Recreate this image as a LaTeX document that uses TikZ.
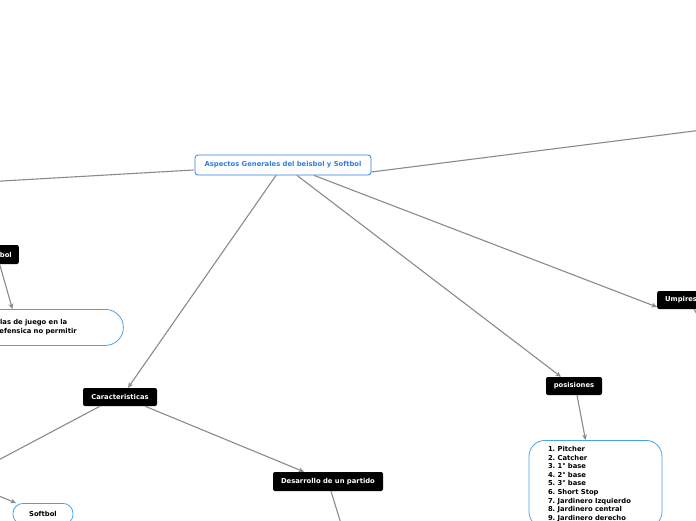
\documentclass[tikz,border=0pt]{standalone}
\usepackage{fontspec}
\setmainfont{DejaVu Sans}
\usetikzlibrary{arrows.meta,calc}
\definecolor{edgegray}{HTML}{8A8A8A}
\definecolor{mainblue}{HTML}{2F7FE0}
\definecolor{lightblue}{HTML}{4AA3E8}
\begin{document}
\frenchspacing
\begin{tikzpicture}[x=1pt,y=-1pt,
  txt/.style={font=\fontsize{6.8}{8.6}\selectfont\bfseries},
  blk/.style={txt, fill=black, text=white, rounded corners=2pt, inner xsep=8pt, inner ysep=0pt, minimum height=19pt},
  topic/.style={txt, draw=mainblue, line width=0.8pt, fill=white, text=mainblue, rounded corners=3pt, inner sep=0pt, minimum height=20pt, minimum width=176pt},
  bubble/.style={txt, draw=lightblue, line width=0.8pt, fill=white, text=black, align=left, inner xsep=19pt, inner ysep=6pt},
  conn/.style={draw=edgegray, line width=1.1pt},
  arr/.style={conn, -{Stealth[length=5.5pt,width=5pt]}}
]
\useasboundingbox (0,0) rectangle (696,520);
\clip (0,0) rectangle (696,520);

% nodes
\node[topic] (main) at (283,165) {Aspectos Generales del beisbol y Softbol};
\node[blk, inner xsep=7pt, anchor=east] (beis) at (19,254.5) {Beisbol};
\node[bubble, rounded corners=18pt, text width=119pt, minimum height=36pt, anchor=north west] (reglas) at (-34,309) {Reglas de juego en la\\la defensica no permitir};
\node[blk, minimum width=74pt, minimum height=18pt, inner xsep=0pt] (car) at (120,397) {Caracteristicas};
\node[blk, minimum width=110pt, inner xsep=0pt] (des) at (328,481.5) {Desarrollo de un partido};
\node[bubble, align=center, rounded corners=10pt, inner xsep=0pt, minimum width=60pt, minimum height=21pt, anchor=north] (soft) at (43,503) {Softbol};
\node[blk, minimum width=56pt, minimum height=18pt, inner xsep=0pt] (pos) at (574,386) {posisiones};
\node[bubble, rounded corners=16pt, text width=95pt, anchor=north, inner ysep=6pt] (lista) at (595.5,440) {1. Pitcher\\2. Catcher\\3. 1° base\\4. 2° base\\5. 3° base\\6. Short Stop\\7. Jardinero Izquierdo\\8. Jardinero central\\9. Jardinero derecho};
\node[blk, minimum height=18pt, anchor=west] (ump) at (657,300) {Umpires};

% free ends of connectors leaving the picture
\coordinate (offleft) at (-120,188);
\coordinate (offright) at (820,115);
\coordinate (offcar) at (-60,491);
\coordinate (offsoft) at (-40,480);
\coordinate (offdes) at (346,540);
\coordinate (offump) at (706,330);

% connectors
\draw[conn] (main.west) ++(-1,5) -- (offleft);
\draw[conn] ([yshift=-7pt]main.east) -- (offright);
\draw[arr] ([xshift=-7pt]main.south) -- ([xshift=8pt]car.north);
\draw[arr] ([xshift=14pt]main.south) -- ([xshift=-13pt]pos.north);
\draw[arr] ([xshift=31pt]main.south) -- ([yshift=-7pt]ump.west);
\draw[arr] ([xshift=1.6pt,yshift=1pt]beis.south) -- ([xshift=-32.5pt]reglas.north);
\draw[conn] ([xshift=-20pt]car.south) -- (offcar);
\draw[arr] ([xshift=25pt]car.south) -- ([xshift=-24pt]des.north);
\draw[conn] ([xshift=3pt]des.south) -- (offdes);
\draw[arr] (offsoft) -- ([xshift=-27pt]soft.north);
\draw[arr] ([xshift=3pt]pos.south) -- ([xshift=-10pt]lista.north);
\draw[conn] ([xshift=13pt]ump.south) -- (offump);
\end{tikzpicture}
\end{document}
